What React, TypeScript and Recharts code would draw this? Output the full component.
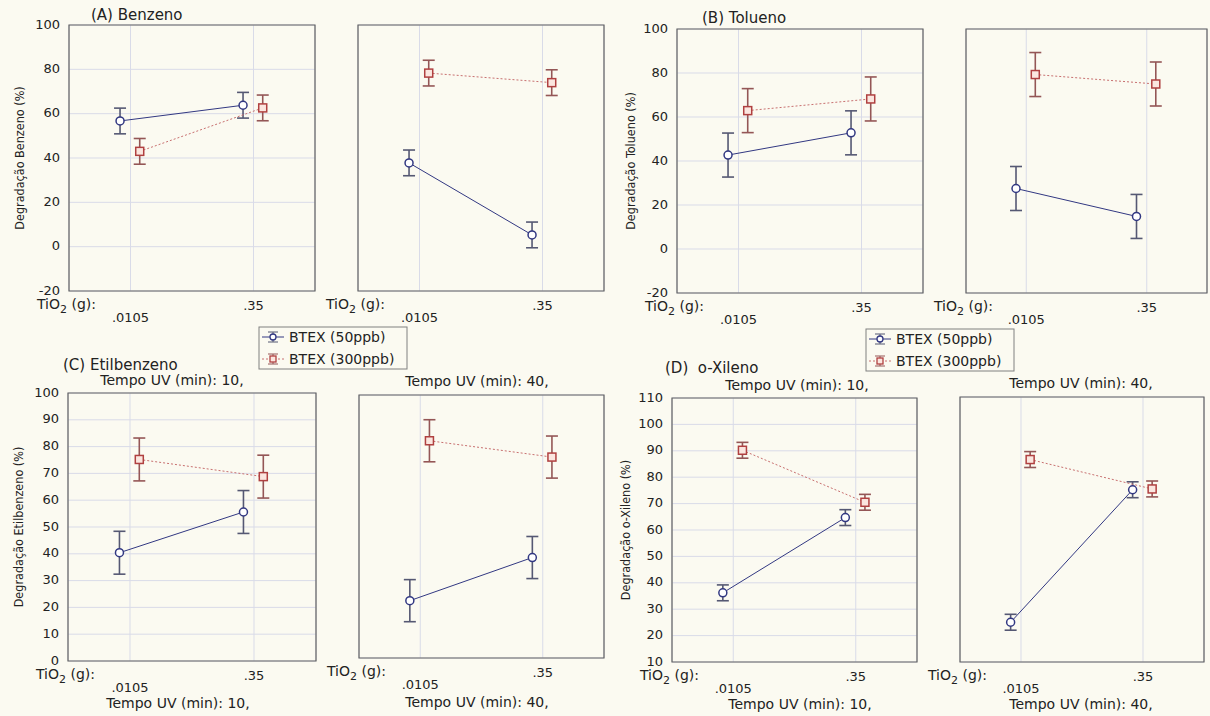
import React from "react";
import {
  ScatterChart,
  Scatter,
  XAxis,
  YAxis,
  CartesianGrid,
  ErrorBar,
  ReferenceArea,
} from "recharts";

const categories = [".0105", ".35"];
const seriesNames = ["BTEX (50ppb)", "BTEX (300ppb)"];
const uvTimes = ["Tempo UV (min): 10,", "Tempo UV (min): 40,"];

// (A) Benzeno
const benzeno10min50 = [56.7, 63.8];
const benzeno10min300 = [43, 62.6];
const benzeno40min50 = [37.8, 5.3];
const benzeno40min300 = [78.3, 74];
const benzenoErr = 5.8;
const benzenoTicks = [-20, 0, 20, 40, 60, 80, 100];

// (B) Tolueno
const tolueno10min50 = [42.7, 52.8];
const tolueno10min300 = [62.9, 68.2];
const tolueno40min50 = [27.5, 14.8];
const tolueno40min300 = [79.3, 75];
const toluenoErr = 10;
const toluenoTicks = [-20, 0, 20, 40, 60, 80, 100];

// (C) Etilbenzeno
const etil10min50 = [40.4, 55.6];
const etil10min300 = [75.2, 68.8];
const etil40min50 = [21.8, 38.2];
const etil40min300 = [82.6, 76.4];
const etilErr = 8;
const etilTicks = [0, 10, 20, 30, 40, 50, 60, 70, 80, 90, 100];

// (D) o-Xileno
const xileno10min50 = [36.2, 64.7];
const xileno10min300 = [90.2, 70.5];
const xileno40min50 = [25, 75];
const xileno40min300 = [86.4, 75.3];
const xilenoErr = 3;
const xilenoTicks = [10, 20, 30, 40, 50, 60, 70, 80, 90, 100, 110];

const BG = "#fbfaf1";
const FONT = "'DejaVu Sans', Verdana, sans-serif";
const NARROW = "'DejaVu Sans Condensed', 'Liberation Sans Narrow', 'DejaVu Sans', sans-serif";
const GRID = "#d9dbe8";
const FRAME = "#626262";
const NAVY = "#323882";
const NAVY_BAR = "#555873";
const RED = "#b04040";
const RED_LINE = "#c87070";
const RED_BAR = "#945656";

const Y_AXIS_W = 70;
const TOP_PAD = 12;
const X_AXIS_H = 46;
const DODGE_50 = -0.17;
const DODGE_300 = 0.15;

type Box = { x: number; y: number; w: number; h: number };

const boxes: Record<string, Box> = {
  a1: { x: 69, y: 25, w: 246, h: 266 },
  a2: { x: 358, y: 25, w: 246, h: 266 },
  b1: { x: 677, y: 29, w: 246, h: 264 },
  b2: { x: 966, y: 29, w: 241, h: 264 },
  c1: { x: 68, y: 393, w: 248, h: 268 },
  c2: { x: 359, y: 395, w: 245, h: 263 },
  d1: { x: 672, y: 398, w: 245, h: 264 },
  d2: { x: 960, y: 397, w: 244, h: 265 },
};

const toRows = (vals: number[], err: number, dodge: number) =>
  vals.map((v, i) => ({ x: 1 + 2 * i + dodge, y: v, err }));

const circleShape = (p: any) => (
  <circle cx={p.cx} cy={p.cy} r={4} stroke={NAVY} strokeWidth={1.5} fill="#ffffff" />
);
const squareShape = (p: any) => (
  <rect x={p.cx - 4} y={p.cy - 4} width={8} height={8} stroke={RED} strokeWidth={1.5} fill="#fbe6df" />
);

const XTick = (p: any) => {
  const idx = Math.round((p.payload.value - 1) / 2);
  return (
    <g>
      {idx === 0 && (
        <text x={Y_AXIS_W - 32} y={p.y + 16} fontSize={14} fontFamily={FONT} fill="#222">
          TiO
          <tspan fontSize={11} dy={4}>2</tspan>
          <tspan dy={-4}> (g):</tspan>
        </text>
      )}
      <text
        x={p.x}
        y={p.y + (idx === 0 ? 29 : 17)}
        textAnchor="middle"
        fontSize={13}
        fontFamily={FONT}
        fill="#222"
      >
        {categories[idx]}
      </text>
    </g>
  );
};

function Subplot({
  box,
  ticks,
  values50,
  values300,
  err,
  showTicks,
}: {
  box: Box;
  ticks: number[];
  values50: number[];
  values300: number[];
  err: number;
  showTicks: boolean;
}) {
  const width = Y_AXIS_W + box.w + 6;
  const height = TOP_PAD + box.h + X_AXIS_H;
  const lo = ticks[0];
  const hi = ticks[ticks.length - 1];
  return (
    <div style={{ position: "absolute", left: box.x - Y_AXIS_W, top: box.y - TOP_PAD }}>
      <ScatterChart width={width} height={height} margin={{ top: TOP_PAD, right: 6, bottom: 0, left: 0 }}>
        <CartesianGrid stroke={GRID} strokeWidth={1} />
        <XAxis
          type="number"
          dataKey="x"
          domain={[0, 4]}
          ticks={[1, 3]}
          interval={0}
          height={X_AXIS_H}
          axisLine={false}
          tickLine={false}
          tickSize={0}
          tick={(p: any) => <XTick {...p} />}
        />
        <YAxis
          type="number"
          dataKey="y"
          domain={[lo, hi]}
          ticks={ticks}
          interval={0}
          width={Y_AXIS_W}
          axisLine={false}
          tickLine={false}
          tickSize={0}
          tickMargin={9}
          tick={showTicks ? { fill: "#222", fontSize: 13, fontFamily: FONT, dy: -1 } : false}
        />
        <ReferenceArea x1={0} x2={4} y1={lo} y2={hi} fill="none" stroke={FRAME} strokeWidth={1.2} />
        <Scatter
          data={toRows(values50, err, DODGE_50)}
          line={{ stroke: NAVY, strokeWidth: 1 }}
          lineType="joint"
          shape={circleShape}
          isAnimationActive={false}
        >
          <ErrorBar dataKey="err" direction="y" width={6} stroke={NAVY_BAR} strokeWidth={1.6} />
        </Scatter>
        <Scatter
          data={toRows(values300, err, DODGE_300)}
          line={{ stroke: RED_LINE, strokeWidth: 1, strokeDasharray: "2 2" }}
          lineType="joint"
          shape={squareShape}
          isAnimationActive={false}
        >
          <ErrorBar dataKey="err" direction="y" width={6} stroke={RED_BAR} strokeWidth={1.6} />
        </Scatter>
      </ScatterChart>
    </div>
  );
}

function LegendBox({ x, y }: { x: number; y: number }) {
  const rows = [
    { name: seriesNames[0], cy: 10, dash: undefined, line: NAVY, bar: NAVY_BAR, marker: "circle" },
    { name: seriesNames[1], cy: 32, dash: "2 2", line: RED_LINE, bar: RED_BAR, marker: "square" },
  ];
  return (
    <g transform={`translate(${x},${y})`}>
      <rect x={0} y={0} width={148} height={42} fill={BG} stroke="#808080" strokeWidth={1} />
      {rows.map((r) => (
        <g key={r.name}>
          <line x1={3} x2={25} y1={r.cy} y2={r.cy} stroke={r.line} strokeDasharray={r.dash} />
          <line x1={14} x2={14} y1={r.cy - 5} y2={r.cy + 5} stroke={r.bar} />
          <line x1={9} x2={19} y1={r.cy - 5} y2={r.cy - 5} stroke={r.bar} />
          <line x1={9} x2={19} y1={r.cy + 5} y2={r.cy + 5} stroke={r.bar} />
          {r.marker === "circle" ? (
            <circle cx={14} cy={r.cy} r={3} fill="#fff" stroke={NAVY} strokeWidth={1.3} />
          ) : (
            <rect x={11} y={r.cy - 3} width={6} height={6} fill="#fbe6df" stroke={RED} strokeWidth={1.3} />
          )}
          <text x={30} y={r.cy + 5} fontSize={14} fontFamily={FONT} fill="#222">
            {r.name}
          </text>
        </g>
      ))}
    </g>
  );
}

const yTitle = (box: Box, label: string, dx: number) => (
  <text
    x={box.x - dx}
    y={box.y + box.h / 2}
    transform={`rotate(-90 ${box.x - dx} ${box.y + box.h / 2})`}
    textAnchor="middle"
    dominantBaseline="central"
    fontSize={12.5}
    fontFamily={NARROW}
    fill="#222"
  >
    {label}
  </text>
);

const uvText = (cx: number, y: number, label: string) => (
  <text x={cx} y={y} textAnchor="middle" fontSize={14} fontFamily={FONT} fill="#222">
    {label}
  </text>
);

export default function App() {
  return (
    <div
      style={{
        position: "absolute",
        left: 0,
        top: 0,
        width: 1210,
        height: 716,
        background: BG,
        overflow: "hidden",
      }}
    >
      <Subplot box={boxes.a1} ticks={benzenoTicks} values50={benzeno10min50} values300={benzeno10min300} err={benzenoErr} showTicks />
      <Subplot box={boxes.a2} ticks={benzenoTicks} values50={benzeno40min50} values300={benzeno40min300} err={benzenoErr} showTicks={false} />
      <Subplot box={boxes.b1} ticks={toluenoTicks} values50={tolueno10min50} values300={tolueno10min300} err={toluenoErr} showTicks />
      <Subplot box={boxes.b2} ticks={toluenoTicks} values50={tolueno40min50} values300={tolueno40min300} err={toluenoErr} showTicks={false} />
      <Subplot box={boxes.c1} ticks={etilTicks} values50={etil10min50} values300={etil10min300} err={etilErr} showTicks />
      <Subplot box={boxes.c2} ticks={etilTicks} values50={etil40min50} values300={etil40min300} err={etilErr} showTicks={false} />
      <Subplot box={boxes.d1} ticks={xilenoTicks} values50={xileno10min50} values300={xileno10min300} err={xilenoErr} showTicks />
      <Subplot box={boxes.d2} ticks={xilenoTicks} values50={xileno40min50} values300={xileno40min300} err={xilenoErr} showTicks={false} />

      <svg
        width={1210}
        height={716}
        style={{ position: "absolute", left: 0, top: 0, pointerEvents: "none" }}
      >
        <text x={91} y={20} fontSize={15} fontFamily={FONT} fill="#222">(A) Benzeno</text>
        <text x={702} y={23} fontSize={15} fontFamily={FONT} fill="#222">(B) Tolueno</text>
        <text x={63} y={370} fontSize={15} fontFamily={FONT} fill="#222">(C) Etilbenzeno</text>
        <text x={665} y={373} fontSize={15} fontFamily={FONT} fill="#222" style={{ whiteSpace: "pre" }}>
          (D)  o-Xileno
        </text>

        {yTitle(boxes.a1, "Degradação Benzeno (%)", 50)}
        {yTitle(boxes.b1, "Degradação Tolueno (%)", 47)}
        {yTitle(boxes.c1, "Degradação Etilbenzeno (%)", 50)}
        {yTitle(boxes.d1, "Degradação o-Xileno (%)", 47)}

        {uvText(172, 385, uvTimes[0])}
        {uvText(477, 386, uvTimes[1])}
        {uvText(797, 390, uvTimes[0])}
        {uvText(1081, 388, uvTimes[1])}
        {uvText(178, 708, uvTimes[0])}
        {uvText(477, 707, uvTimes[1])}
        {uvText(800, 709, uvTimes[0])}
        {uvText(1081, 709, uvTimes[1])}

        <LegendBox x={259} y={327} />
        <LegendBox x={866} y={329} />
      </svg>
    </div>
  );
}
